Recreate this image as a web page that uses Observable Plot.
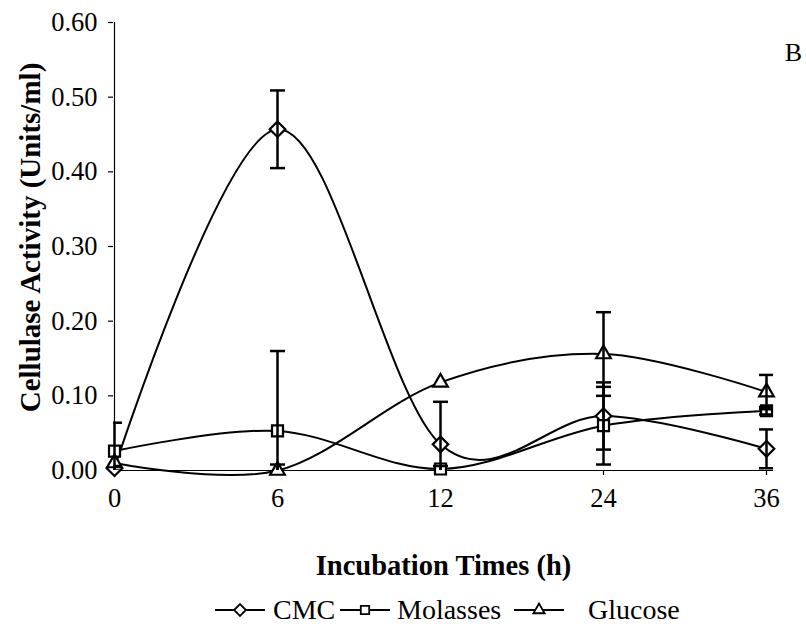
<!DOCTYPE html>
<html>
<head>
<meta charset="utf-8">
<script src="https://cdn.jsdelivr.net/npm/d3@7"></script>
<script src="https://cdn.jsdelivr.net/npm/@observablehq/plot@0.6"></script>
<style>
  body { margin: 0; background: #fff; font-family: "Liberation Serif", "Times New Roman", serif; }
  #chart svg { display: block; }
  #legend { position: relative; width: 806px; height: 39px; font-size: 28px; color: #000; }
  #legend .item { position: absolute; top: 0; height: 39px; display: flex; align-items: center; white-space: nowrap; }
  #legend svg { display: block; }
</style>
</head>
<body>
<div id="chart"></div>
<div id="legend"></div>
<script>
// Incubation times (h) and cellulase activity (Units/ml) per carbon source
const hours = [0, 6, 12, 24, 36];
const cmc = [0.003, 0.457, 0.035, 0.073, 0.029];
const cmcErr = [0.003, 0.052, 0.057, 0.045, 0.026];
const molasses = [0.026, 0.053, 0.002, 0.060, 0.080];
const molassesErr = [0.038, 0.107, 0.004, 0.052, 0.005];
const glucose = [0.010, 0.000, 0.118, 0.156, 0.105];
const glucoseErr = [0.000, 0.008, 0.000, 0.056, 0.023];
const yTicks = [0, 0.1, 0.2, 0.3, 0.4, 0.5, 0.6];

const seriesNames = ["CMC", "Molasses", "Glucose"];
const seriesSymbols = {CMC: "diamond2", Molasses: "square2", Glucose: "triangle2"};

const rows = [];
[[seriesNames[0], cmc, cmcErr], [seriesNames[1], molasses, molassesErr], [seriesNames[2], glucose, glucoseErr]]
  .forEach(([name, vals, errs]) => hours.forEach((h, i) => rows.push({series: name, hour: h, value: vals[i], err: errs[i]})));
const withErr = rows.filter(d => d.err > 0);

// horizontal cap for error bars
const cap = {draw(context) { context.moveTo(-7.5, 0); context.lineTo(7.5, 0); }};

const font = '"Liberation Serif", "Times New Roman", serif';

const chart = Plot.plot({
  width: 806,
  height: 590,
  marginLeft: 113,
  marginRight: 33,
  marginTop: 22,
  marginBottom: 120,
  style: {fontFamily: font, fontSize: "26.5px", color: "#000", background: "#fff"},
  x: {type: "point", domain: hours, padding: 0, insetRight: 7},
  y: {domain: [0, 0.6]},
  marks: [
    Plot.axisY({ticks: yTicks, tickFormat: d3.format(".2f"), tickSize: 5, tickPadding: 11, label: null, stroke: "#000", strokeWidth: 1.2}),
    Plot.axisX({ticks: hours, tickSize: 5, tickPadding: 13, label: null, stroke: "#000", strokeWidth: 1.2}),
    Plot.ruleX([hours[0]], {stroke: "#000", strokeWidth: 1.2}),
    Plot.ruleY([0], {stroke: "#000", strokeWidth: 1.2}),
    Plot.line(rows, {x: "hour", y: "value", z: "series", curve: "cardinal", stroke: "#000", strokeWidth: 2}),
    Plot.dot(rows, {x: "hour", y: "value", symbol: d => seriesSymbols[d.series], r: 7, fill: "#fff", stroke: "#000", strokeWidth: 2.2}),
    Plot.ruleX(withErr, {x: "hour", y1: d => d.value - d.err, y2: d => d.value + d.err, stroke: "#000", strokeWidth: 2.5, clip: true}),
    Plot.dot(withErr, {x: "hour", y: d => d.value + d.err, symbol: cap, stroke: "#000", strokeWidth: 2.5, clip: true}),
    Plot.dot(withErr, {x: "hour", y: d => d.value - d.err, symbol: cap, stroke: "#000", strokeWidth: 2.5, clip: true}),
    Plot.text(["Cellulase Activity (Units/ml)"], {frameAnchor: "left", rotate: -90, dx: -83, dy: -9, textAnchor: "middle", lineAnchor: "middle", fontWeight: "bold", fontSize: 29, fill: "#000"}),
    Plot.text(["Incubation Times (h)"], {frameAnchor: "bottom", dy: 95, textAnchor: "middle", lineAnchor: "middle", fontWeight: "bold", fontSize: 28.5, fill: "#000"}),
    Plot.text(["B"], {frameAnchor: "top-right", dx: 20, dy: 30, textAnchor: "middle", lineAnchor: "middle", fontSize: 26, fill: "#000"})
  ]
});
document.getElementById("chart").append(chart);

// Legend: line-and-marker swatch followed by the series name
const legend = d3.select("#legend");
const legendLayout = [
  {name: "CMC", left: 215, gap: 8},
  {name: "Molasses", left: 340, gap: 7},
  {name: "Glucose", left: 514, gap: 24}
];
legendLayout.forEach(({name, left, gap}) => {
  const item = legend.append("div").attr("class", "item").style("left", left + "px");
  const svg = item.append("svg").attr("width", 50).attr("height", 20);
  svg.append("line").attr("x1", 0).attr("x2", 50).attr("y1", 10).attr("y2", 10).attr("stroke", "#000").attr("stroke-width", 2);
  const type = {diamond2: d3.symbolDiamond2, square2: d3.symbolSquare2, triangle2: d3.symbolTriangle2}[seriesSymbols[name]];
  svg.append("path").attr("transform", "translate(25,10)").attr("d", d3.symbol(type, 90)())
    .attr("fill", "#fff").attr("stroke", "#000").attr("stroke-width", 1.8);
  item.append("span").style("margin-left", gap + "px").text(name);
});
</script>
</body>
</html>
